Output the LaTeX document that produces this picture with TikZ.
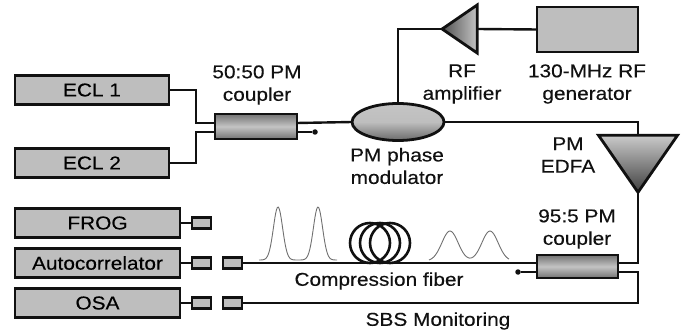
\documentclass[tikz,border=0pt]{standalone}
\usepackage{fontspec}
\setmainfont[FakeStretch=1.12,FakeBold=0.3]{Liberation Sans}
\usetikzlibrary{positioning,shapes.geometric}
\definecolor{setupInk}{HTML}{111111}
\definecolor{setupFill}{HTML}{BEBEBE}
\definecolor{setupDark}{HTML}{505050}
\definecolor{setupLight}{HTML}{C4C4C4}
\definecolor{setupPulse}{HTML}{707070}
\tikzset{
  instrBox/.style={
    draw=setupInk,
    fill=setupFill,
    line width=2.8pt,
    outer sep=0pt,
    inner sep=0pt,
    minimum width=165pt,
    minimum height=29pt
  },
  plugBox/.style={
    draw=setupInk,
    fill=setupFill,
    line width=2.8pt,
    outer sep=0pt,
    inner sep=0pt,
    minimum width=19pt,
    minimum height=11pt
  },
  couplerBox/.style={
    draw=setupInk,
    line width=2.8pt,
    outer sep=0pt,
    inner sep=0pt,
    top color=setupDark!80,
    bottom color=setupDark!80,
    middle color=setupLight
  },
  fiberLine/.style={line width=2.4pt, draw=setupInk, line join=miter},
  pulseLine/.style={line width=0.9pt, draw=setupPulse},
  setupNote/.style={text=setupInk, align=center, inner sep=0pt}
}

\begin{document}
\begin{tikzpicture}[x=1pt, y=-1pt, font=\fontsize{18.6}{22.5}\selectfont]
    \useasboundingbox (0,0) rectangle (684,336);

    % sources
    \node[instrBox, minimum width=154pt] (ecl1) at (92,90) {ECL 1};
    \node[instrBox, minimum width=154pt, below=44pt of ecl1] (ecl2) {ECL 2};
    \node[couplerBox, minimum width=82pt, minimum height=25pt] (cplA) at (256,126.5) {};
    \node[draw=setupInk, line width=2.8pt, ellipse, inner sep=0pt, outer sep=0pt,
      minimum width=92pt, minimum height=37pt, top color=setupLight,
      bottom color=setupDark!85, middle color=setupFill] (pmMod) at (398,122) {};

    % RF branch
    \node[instrBox, minimum width=101pt, minimum height=45pt] (rfGen) at (587.5,29.5) {};
    \node[draw=setupInk, line width=2.8pt, isosceles triangle, isosceles triangle stretches,
      shape border rotate=180, inner sep=0pt, outer sep=0pt, minimum width=48pt,
      minimum height=35pt, left color=setupDark, right color=setupLight] (rfAmp) at (464.5,29) {};

    % amplifier and second coupler
    \node[draw=setupInk, line width=2.8pt, isosceles triangle, isosceles triangle stretches,
      shape border rotate=-90, inner sep=0pt, outer sep=0pt, minimum width=79pt,
      minimum height=57pt, top color=setupLight!90, bottom color=setupDark!80!black] (edfa) at (638,156) {};
    \node[couplerBox, minimum width=81pt, minimum height=23pt] (cplB) at (577.5,266.5) {};

    % instruments
    \node[instrBox] (frog) at (97.5,223) {FROG};
    \node[instrBox, below=11pt of frog] (autocorr) {Autocorrelator};
    \node[instrBox, below=11pt of autocorr] (osa) {OSA};
    \node[plugBox, right=12pt of frog] (plugF) {};
    \node[plugBox, right=12pt of autocorr] (plugAa) {};
    \node[plugBox, right=12pt of osa] (plugOa) {};
    \node[plugBox, right=12pt of plugAa] (plugAb) {};
    \node[plugBox, right=12pt of plugOa] (plugOb) {};

    % free ends
    \coordinate (cplAinT) at (215,123);
    \coordinate (cplAinB) at (215,132);
    \coordinate (cplAoutT) at (297,123);
    \coordinate (cplAoutB) at (297,132);
    \coordinate (cplBoutT) at (618,263);
    \coordinate (cplBoutB) at (618,272);
    \coordinate (cplBinT) at (537,263);
    \coordinate (cplBinB) at (537,272);
    \node[circle, fill=setupInk, inner sep=0pt, minimum size=5.5pt] (dumpA) at (315,132) {};
    \node[circle, fill=setupInk, inner sep=0pt, minimum size=5.5pt] (dumpB) at (518,272) {};

    \draw[fiberLine] (ecl1.east) -| (196,123) -- (cplAinT);
    \draw[fiberLine] (ecl2.east) -| (196,132) -- (cplAinB);
    \draw[fiberLine] (cplAoutT) -- (pmMod.west);
    \draw[fiberLine] (cplAoutB) -- (dumpA);
    \draw[fiberLine] (pmMod.north) |- (rfAmp.apex);
    \draw[fiberLine] (rfGen.west) -- (477,29);
    \draw[fiberLine] (pmMod.east) -| (edfa.north);
    \draw[fiberLine] (edfa.apex) |- (cplBoutT);
    \draw[fiberLine] (cplBinT) -- (plugAb.east);
    \draw[fiberLine] (cplBinB) -- (dumpB);
    \draw[fiberLine] (cplBoutB) -| (638,303) -- (plugOb.east);
    \draw[fiberLine] (frog.east) -- (plugF.west);
    \draw[fiberLine] (autocorr.east) -- (plugAa.west);
    \draw[fiberLine] (osa.east) -- (plugOa.west);

    % fiber spool
    \foreach \cx/\name in {370/coilA, 380/coilB, 390/coilC}
      \node[draw=setupInk, line width=2.6pt, ellipse, inner sep=0pt, outer sep=0pt,
        minimum width=40pt, minimum height=40pt] (\name) at (\cx,243) {};

    % pulses
    \draw[pulseLine] plot[domain=259:337, samples=90, smooth]
      (\x,{260-53*(exp(-(abs(\x-278)/6.5)^2)+exp(-(abs(\x-318)/6.5)^2))});
    \draw[pulseLine] plot[domain=429:509, samples=70, smooth]
      (\x,{261-30*(exp(-(abs(\x-450)/11.5)^2)+exp(-(abs(\x-490)/11.5)^2))});

    % labels
    \node[setupNote] (lblCplA) at (257,85) {50:50 PM\\coupler};
    \node[setupNote] (lblAmp) at (462,84) {RF\\amplifier};
    \node[setupNote] (lblGen) at (587,84) {130-MHz RF\\generator};
    \node[setupNote] (lblMod) at (397,166) {PM phase\\modulator};
    \node[setupNote] (lblEdfa) at (568,155) {PM\\EDFA};
    \node[setupNote] (lblCplB) at (577,229) {95:5 PM\\coupler};
    \node[setupNote] (lblFiber) at (379,281) {Compression fiber};
    \node[setupNote] (lblSbs) at (438,321) {SBS Monitoring};
\end{tikzpicture}
\end{document}
